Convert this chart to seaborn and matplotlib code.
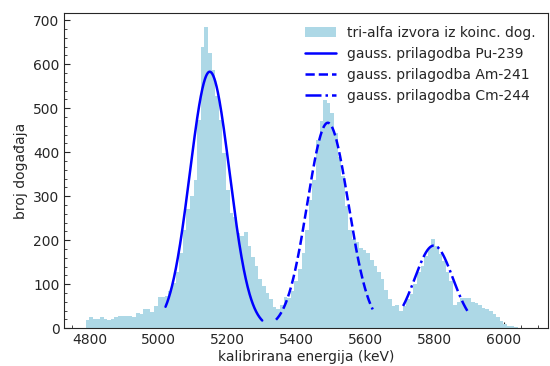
import numpy as np
import pandas as pd
import matplotlib
matplotlib.use("Agg")
import matplotlib.pyplot as plt
import seaborn as sns
from matplotlib.ticker import MultipleLocator

# ---- data ----
bin_start = 4788.4      # keV, left edge of first bin
bin_width = 10.43       # keV
counts = [18, 26, 22, 20, 26, 20, 18, 21, 25, 29,
          27, 28, 28, 26, 35, 33, 43, 43, 36, 50,
          72, 72, 73, 85, 104, 127, 172, 224, 270, 300,
          338, 474, 640, 685, 625, 587, 527, 474, 399, 315,
          263, 254, 217, 209, 218, 186, 163, 141, 111, 96,
          81, 66, 48, 43, 54, 70, 68, 85, 107, 134,
          170, 224, 292, 338, 428, 470, 519, 512, 490, 444,
          390, 345, 277, 224, 202, 195, 183, 179, 172, 156,
          141, 127, 111, 88, 66, 51, 54, 39, 51, 66,
          77, 100, 127, 141, 164, 183, 202, 187, 168, 153,
          127, 107, 54, 60, 68, 68, 68, 59, 57, 52,
          47, 43, 39, 32, 25, 17, 9, 5, 5, 3]

fit_labels = ["gauss. prilagodba Pu-239", "gauss. prilagodba Am-241", "gauss. prilagodba Cm-244"]
fit_amp = [583, 467, 188]
fit_mean = [5148, 5490, 5797]
fit_sigma = [57.5, 59.5, 55.0]
fit_lo = [5020, 5340, 5708]
fit_hi = [5300, 5620, 5894]
hist_label = "tri-alfa izvora iz koinc. dog."

x_label = "kalibrirana energija (keV)"
y_label = "broj događaja"

# ---- figure ----
sns.set_style("ticks")
plt.rcParams["font.family"] = ["DejaVu Sans"]
plt.rcParams["font.size"] = 10

fig, ax = plt.subplots(figsize=(5.5, 3.66), dpi=100)
fig.subplots_adjust(left=0.117, right=0.996, bottom=0.103, top=0.964)

n = len(counts)
edges = [float(bin_start + bin_width * k) for k in range(n + 1)]
centers = [(edges[k] + edges[k + 1]) / 2 for k in range(n)]
hist_df = pd.DataFrame({"E": centers, "n": counts})

sns.histplot(data=hist_df, x="E", weights="n", bins=edges, color="lightblue",
             alpha=1.0, linewidth=0, edgecolor="none", ax=ax, label=hist_label)

styles = ["-", "--", "-."]
for lab, a, m, s, lo, hi, ls in zip(fit_labels, fit_amp, fit_mean, fit_sigma, fit_lo, fit_hi, styles):
    xx = np.linspace(lo, hi, 300)
    yy = a * np.exp(-(xx - m) ** 2 / (2 * s ** 2))
    sns.lineplot(x=xx, y=yy, color="blue", linestyle=ls, linewidth=1.8,
                 label=lab, ax=ax, sort=False)

ax.set_xlim(4727, 6127)
ax.set_ylim(0, 716)
ax.xaxis.set_major_locator(MultipleLocator(200))
ax.xaxis.set_minor_locator(MultipleLocator(50))
ax.yaxis.set_major_locator(MultipleLocator(100))
ax.yaxis.set_minor_locator(MultipleLocator(20))
ax.tick_params(which="both", direction="in", labelsize=10)
ax.tick_params(which="major", length=4)
ax.tick_params(which="minor", length=2)
ax.set_xlabel(x_label, fontsize=10, labelpad=2)
ax.set_ylabel(y_label, fontsize=10)
for sp in ax.spines.values():
    sp.set_visible(True)
    sp.set_linewidth(0.8)

handles, labels = ax.get_legend_handles_labels()
order = [labels.index(hist_label)] + [labels.index(l) for l in fit_labels]
ax.legend([handles[i] for i in order], [labels[i] for i in order],
          loc="upper right", frameon=False, fontsize=10, handlelength=2.2)

fig.savefig("out.png", dpi=100)
